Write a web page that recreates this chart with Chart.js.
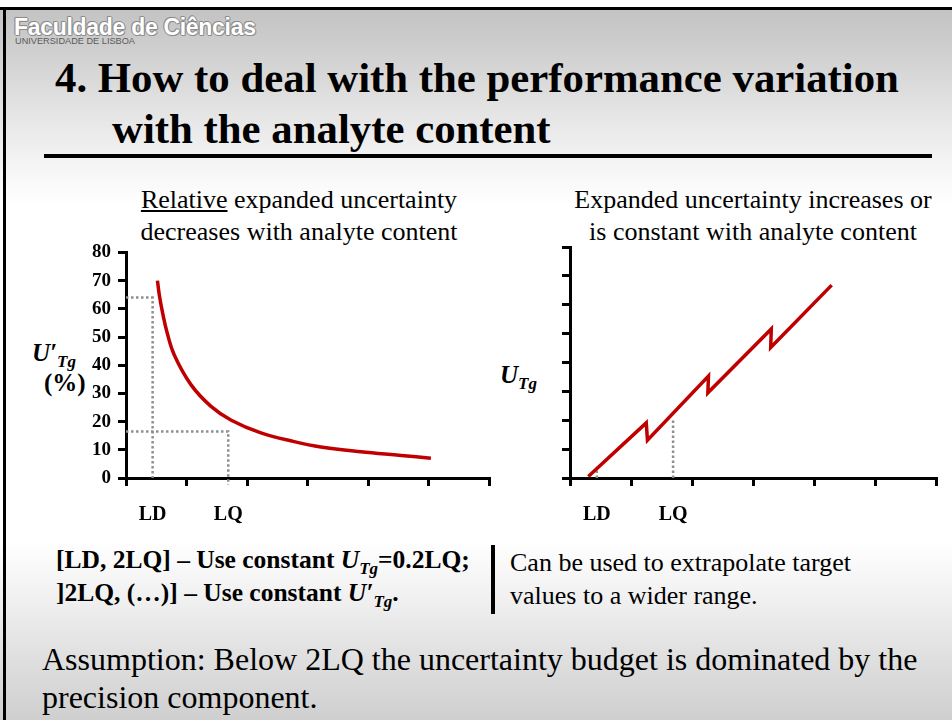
<!DOCTYPE html>
<html><head><meta charset="utf-8">
<script src="https://cdn.jsdelivr.net/npm/chart.js@4.4.0/dist/chart.umd.min.js"></script>
<style>
html,body{margin:0;padding:0;}
body{width:952px;height:720px;overflow:hidden;font-family:"Liberation Serif","Times New Roman",serif;color:#000;}
#slide{position:relative;width:952px;height:720px;background:linear-gradient(to bottom,#fff 0px,#fff 7px,#c3c3c3 10px,#cfcfcf 50px,#e2e2e2 105px,#f3f3f3 160px,#fff 205px,#fff 540px,#f0f0f0 600px,#dcdcdc 670px,#cfcfcf 720px);}
.abs{position:absolute;white-space:nowrap;}
.fac{font-family:"Liberation Sans",Arial,sans-serif;font-weight:bold;font-size:23px;line-height:22px;color:#fff;letter-spacing:-0.3px;
 text-shadow:1px 0 0 #8a8a8a,-1px 0 0 #8a8a8a,0 1px 0 #8a8a8a,0 -1px 0 #8a8a8a,1px 1px 0 #999,-1px -1px 0 #999;}
.uni{font-family:"Liberation Sans",Arial,sans-serif;font-size:9.2px;line-height:9px;color:#5a5a5a;}
.title{font-weight:bold;font-size:42.8px;line-height:42px;}
.sub{font-size:26px;line-height:32px;text-align:center;}
.ax{font-weight:bold;font-style:italic;font-size:25px;line-height:26px;}
.ax sub{font-size:17px;vertical-align:-6px;line-height:0;}
.bul{font-weight:bold;font-size:25.5px;line-height:33px;}
.bul sub{font-size:17px;vertical-align:-6px;line-height:0;}
.txt{font-size:26px;line-height:33px;}
.ass{font-size:32px;line-height:38px;}
canvas{position:absolute;}
</style></head>
<body><div id="slide">
<div class="abs" style="left:0;top:7px;width:952px;height:3px;background:#000"></div>
<div class="abs" style="left:3px;top:7px;width:3px;height:713px;background:#000"></div>
<div class="abs fac" style="left:14px;top:16px">Faculdade de Ciências</div>
<div class="abs uni" style="left:15px;top:37px">UNIVERSIDADE DE LISBOA</div>

<div class="abs title" style="left:55px;top:57px">4. How to deal with the performance variation</div>
<div class="abs title" style="left:112px;top:108px">with the analyte content</div>
<div class="abs" style="left:44px;top:154px;width:888px;height:3.5px;background:#000"></div>

<div class="abs sub" style="left:99px;top:184px;width:400px"><u>Relative</u> expanded uncertainty<br>decreases with analyte content</div>
<div class="abs sub" style="left:553px;top:184px;width:400px">Expanded uncertainty increases or<br>is constant with analyte content</div>

<div class="abs ax" style="left:32px;top:340px">U′<sub>Tg</sub></div>
<div class="abs ax" style="left:44px;top:370px;font-style:normal">(%)</div>
<div class="abs ax" style="left:500px;top:362px">U<sub>Tg</sub></div>

<canvas id="c1" width="435" height="296" style="left:60px;top:234px"></canvas>
<canvas id="c2" width="382" height="295" style="left:560px;top:235px"></canvas>

<div class="abs bul" style="left:56px;top:543px">[LD, 2LQ] – Use constant <i>U</i><sub><i>Tg</i></sub>=0.2LQ;<br>]2LQ, (…)] – Use constant <i>U′</i><sub><i>Tg</i></sub>.</div>
<div class="abs" style="left:491px;top:545px;width:3.5px;height:69px;background:#000"></div>
<div class="abs txt" style="left:510px;top:546px">Can be used to extrapolate target<br>values to a wider range.</div>

<div class="abs ass" style="left:42px;top:640px">Assumption: Below 2LQ the uncertainty budget is dominated by the<br>precision component.</div>
</div>
<script>
// ---- data ----
const leftX = [0.52, 0.55, 0.61, 0.68, 0.80, 1.07, 1.40, 1.74, 2.23, 2.78, 3.22, 3.88, 4.55, 5.04];
const leftY = [70, 65, 58, 51.5, 43.5, 33.2, 25.5, 20.5, 16, 12.9, 11.0, 9.3, 8.0, 7.0];
const rightX = [0.30, 1.25, 1.27, 2.27, 2.26, 3.30, 3.29, 4.29];
const rightY = [0.05, 1.91, 1.31, 3.53, 2.95, 5.16, 4.52, 6.68];
const LD = 0.44, LQ = 1.69;
const leftLDLevel = 64, leftLQLevel = 16.5;
const rightLDLevel = 0.35, rightLQLevel = 2.07;
const markNames = ['LD', 'LQ'];
const leftYTicks = [0, 80, 10];   // min, max, step
const rightYTicks = [0, 8, 1];
const xRange = [0, 6, 1];

const RED = '#C00000', DOT = '#8f8f8f';
const pts = (xs, ys) => xs.map((x, i) => ({x, y: ys[i]}));

const markLabels = {
  id: 'markLabels',
  afterDraw(chart, args, opts) {
    const ctx = chart.ctx, xs = chart.scales.x;
    ctx.save();
    ctx.font = 'bold 20px "Liberation Serif"';
    ctx.fillStyle = '#000';
    ctx.textAlign = 'center';
    ctx.textBaseline = 'alphabetic';
    opts.items.forEach(it => ctx.fillText(it.label, xs.getPixelForValue(it.value), chart.chartArea.bottom + opts.offset));
    ctx.restore();
  }
};

function scales(yT, yWidth, showY) {
  const axisStyle = {
    border: {display: true, color: '#000', width: 3},
    grid: {drawOnChartArea: false, drawTicks: true, tickLength: 8, color: '#000', lineWidth: 3}
  };
  return {
    x: Object.assign({type: 'linear', min: xRange[0], max: xRange[1],
      ticks: {display: false, stepSize: xRange[2]},
      afterFit: s => { s.height = 52; }}, axisStyle),
    y: Object.assign({type: 'linear', min: yT[0], max: yT[1],
      ticks: {display: showY, stepSize: yT[2], padding: 7, color: '#000',
        font: {family: '"Liberation Serif"', weight: 'bold', size: 19}},
      afterFit: s => { s.width = yWidth; }}, axisStyle)
  };
}

function guide(data) {
  return {data, borderColor: DOT, borderWidth: 2.5, borderDash: [2.5, 2.5], pointRadius: 0, fill: false, tension: 0, order: 2, clip: false};
}

new Chart(document.getElementById('c1'), {
  type: 'line',
  data: {datasets: [
    {data: pts(leftX, leftY), borderColor: RED, borderWidth: 3.5, pointRadius: 0, fill: false, tension: 0.4, order: 0},
    guide([{x: xRange[0], y: leftLDLevel}, {x: LD, y: leftLDLevel}, {x: LD, y: 0}]),
    guide([{x: xRange[0], y: leftLQLevel}, {x: LQ, y: leftLQLevel}, {x: LQ, y: -2.4}])
  ]},
  options: {
    responsive: false, animation: false,
    layout: {padding: {top: 12, right: 6, left: 0, bottom: 0}},
    plugins: {legend: {display: false}, tooltip: {enabled: false},
      markLabels: {items: [{label: markNames[0], value: LD}, {label: markNames[1], value: LQ}], offset: 42}},
    scales: scales(leftYTicks, 66, true)
  },
  plugins: [markLabels]
});

new Chart(document.getElementById('c2'), {
  type: 'line',
  data: {datasets: [
    {data: pts(rightX, rightY), borderColor: RED, borderWidth: 3.5, borderJoinStyle: 'miter', pointRadius: 0, fill: false, tension: 0, order: 0},
    guide([{x: LD, y: 0}, {x: LD, y: rightLDLevel}]),
    guide([{x: LQ, y: 0}, {x: LQ, y: rightLQLevel}])
  ]},
  options: {
    responsive: false, animation: false,
    layout: {padding: {top: 12, right: 6, left: 0, bottom: 0}},
    plugins: {legend: {display: false}, tooltip: {enabled: false},
      markLabels: {items: [{label: markNames[0], value: LD}, {label: markNames[1], value: LQ}], offset: 42}},
    scales: scales(rightYTicks, 10, false)
  },
  plugins: [markLabels]
});
</script>
</body></html>
